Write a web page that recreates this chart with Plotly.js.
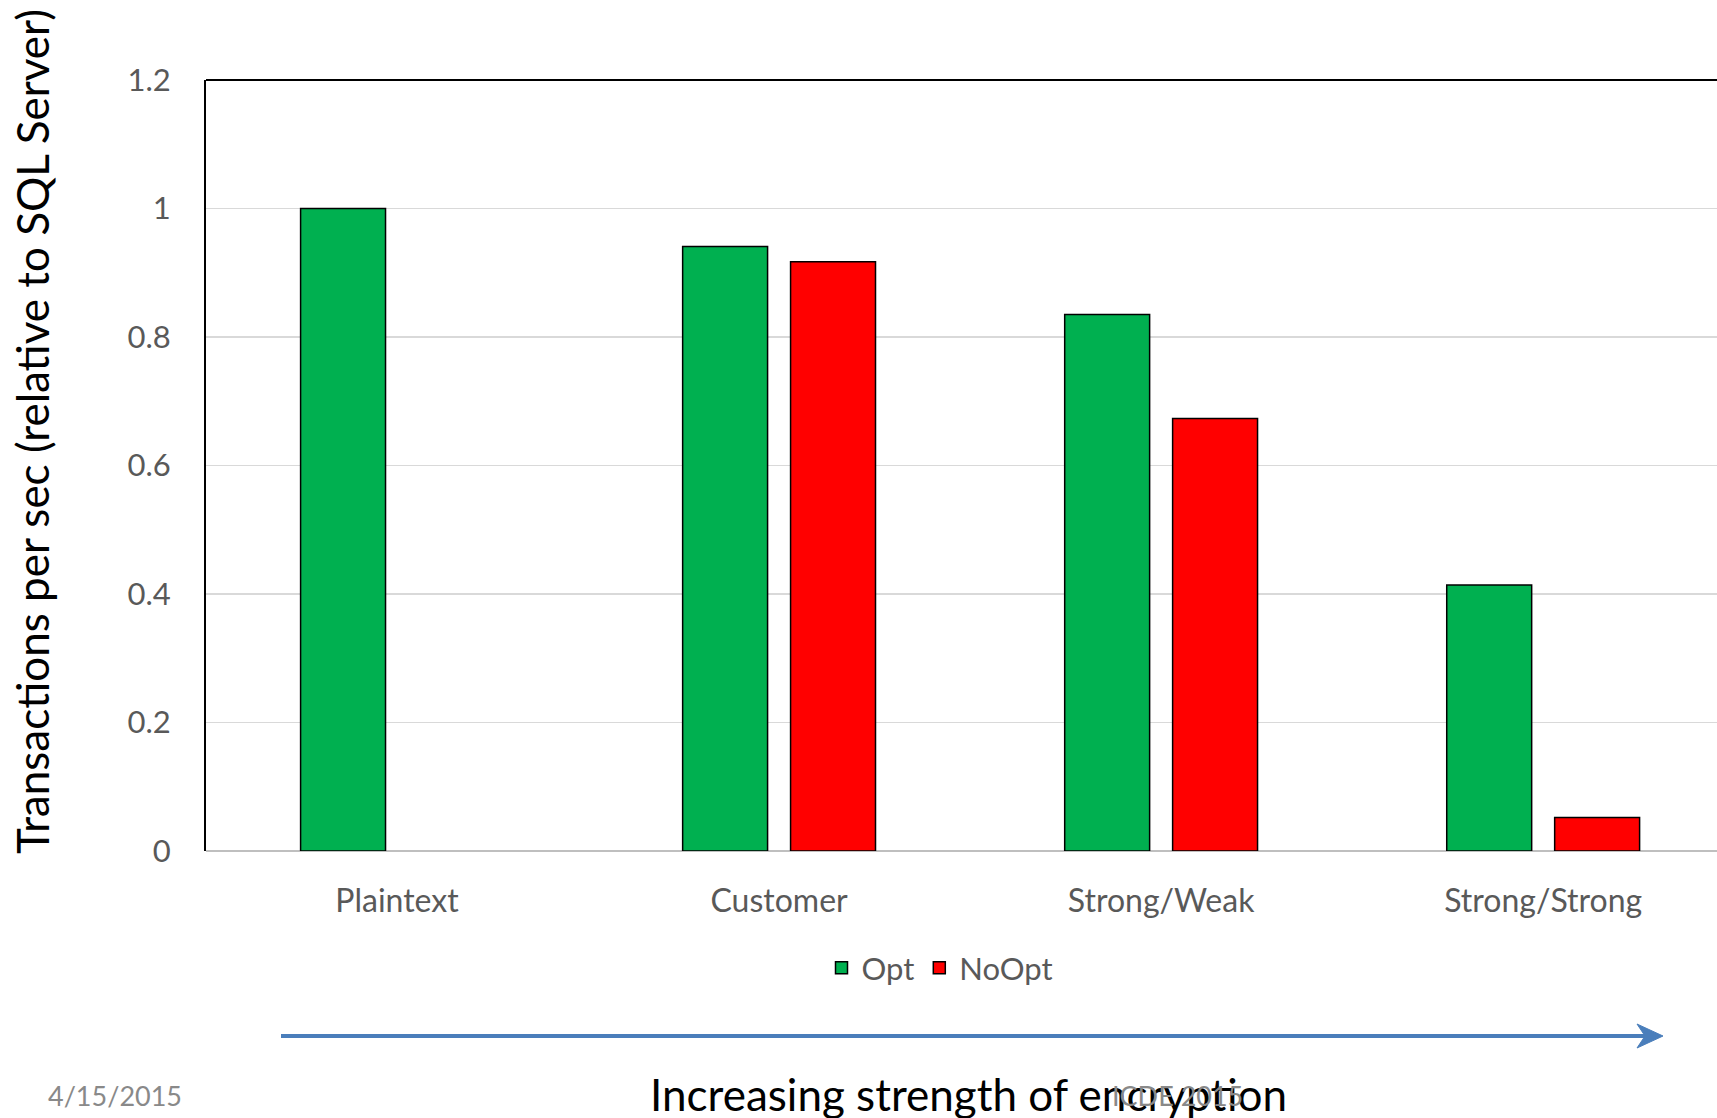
<!DOCTYPE html>
<html>
<head>
<meta charset="utf-8">
<script src="https://cdn.plot.ly/plotly-3.0.1.min.js"></script>
<style>html,body{margin:0;padding:0;background:#fff;}</style>
</head>
<body>
<div id="chart" style="width:1717px;height:1118px;"></div>
<script>
const categories = ["Plaintext", "Customer", "Strong/Weak", "Strong/Strong"];
const optValues = [1.0, 0.941, 0.835, 0.414];
const noOptValues = [null, 0.917, 0.673, 0.052];
const yTickValues = [0, 0.2, 0.4, 0.6, 0.8, 1, 1.2];
const yTickLabels = ["0", "0.2", "0.4", "0.6", "0.8", "1", "1.2"];

const FONT = "Lato, 'Open Sans', sans-serif";
const PL = 206, PR = 1717, PT = 80, PB = 851;
const px = p => (p - PL) / (PR - PL);
const py = p => (PB - p) / (PB - PT);

const traces = [
  {type: "bar", name: "Opt", x: categories, y: optValues,
   marker: {color: "#00B050", line: {color: "#000000", width: 1.5}}},
  {type: "bar", name: "NoOpt", x: categories, y: noOptValues,
   marker: {color: "#FF0000", line: {color: "#000000", width: 1.5}}}
];

const layout = {
  width: 1717, height: 1118,
  margin: {l: PL, r: 0, t: PT, b: 1118 - PB, pad: 0},
  paper_bgcolor: "#ffffff", plot_bgcolor: "#ffffff",
  font: {family: FONT, color: "#595959", size: 31},
  barmode: "group", bargap: 0.435, bargroupgap: 0.213,
  showlegend: true,
  legend: {orientation: "h", x: px(940), xanchor: "center", y: py(968), yanchor: "middle",
           font: {family: FONT, size: 31, color: "#595959"}, itemwidth: 30, traceorder: "normal"},
  xaxis: {type: "category", range: [-0.5, 3.455], showgrid: false, zeroline: false,
          showline: false, ticks: "", ticklabelstandoff: 28,
          tickfont: {family: FONT, size: 32, color: "#595959"}, fixedrange: true},
  yaxis: {range: [0, 1.2], tickvals: yTickValues, ticktext: yTickLabels,
          showgrid: true, gridcolor: "#D9D9D9", gridwidth: 1.3,
          zeroline: true, zerolinecolor: "#BFBFBF", zerolinewidth: 2.5,
          showline: true, linecolor: "#000000", linewidth: 2,
          ticks: "", ticklabelstandoff: 27,
          tickfont: {family: FONT, size: 31, color: "#595959"}, fixedrange: true},
  shapes: [
    {type: "line", xref: "paper", yref: "paper", x0: 0, x1: 1.01, y0: 1, y1: 1,
     line: {color: "#000000", width: 2}},
    {type: "line", xref: "paper", yref: "paper", x0: px(281), x1: px(1648), y0: py(1036), y1: py(1036),
     line: {color: "#4A7EBB", width: 4}},
    {type: "path", xref: "paper", yref: "paper",
     path: `M ${px(1663)} ${py(1036)} L ${px(1637)} ${py(1024)} L ${px(1645)} ${py(1036)} L ${px(1637)} ${py(1048)} Z`,
     fillcolor: "#4A7EBB", line: {color: "#4A7EBB", width: 1}}
  ],
  annotations: [
    {text: "Transactions per sec (relative to SQL Server)", xref: "paper", yref: "paper",
     x: px(32), y: py(432), xanchor: "center", yanchor: "middle", textangle: -90, showarrow: false,
     font: {family: FONT, size: 44, color: "#000000"}},
    {text: "Increasing strength of encryption", xref: "paper", yref: "paper",
     x: px(968), y: py(1094), xanchor: "center", yanchor: "middle", showarrow: false,
     font: {family: FONT, size: 44, color: "#000000"}},
    {text: "4/15/2015", xref: "paper", yref: "paper",
     x: px(46), y: py(1095), xanchor: "left", yanchor: "middle", showarrow: false,
     font: {family: FONT, size: 27, color: "#898989"}},
    {text: "ICDE 2015", xref: "paper", yref: "paper",
     x: px(1177), y: py(1095), xanchor: "center", yanchor: "middle", showarrow: false,
     font: {family: FONT, size: 27, color: "#898989"}}
  ]
};

Plotly.newPlot("chart", traces, layout, {displayModeBar: false, staticPlot: true});
</script>
</body>
</html>
